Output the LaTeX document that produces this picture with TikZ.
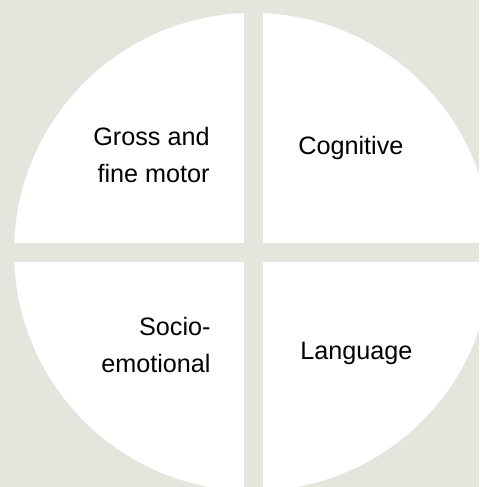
\documentclass[tikz,border=0pt]{standalone}
\usepackage{fontspec}
\setmainfont{Liberation Sans}
\usetikzlibrary{positioning}
\definecolor{Stone}{HTML}{E6E5DD}

\begin{document}
\begin{tikzpicture}[
    x=0.5pt, y=-0.5pt,
    gap/.style={fill=Stone, draw=none},
    areatxt/.style={font=\fontsize{12.6}{18.5}\selectfont, inner sep=0pt},
    lefttxt/.style={areatxt, align=right, anchor=east},
    righttxt/.style={areatxt, align=left, anchor=west}
]

\fill[Stone] (0,0) rectangle (479,487);
\useasboundingbox (0,0) rectangle (479,487);
\begin{scope}
  \clip (0,0) rectangle (479,487);
  \coordinate (c) at (253,252);
  \fill[white] (c) circle[radius=119.5pt];
  \fill[gap] (244,0) rectangle (262.5,487);
  \fill[gap] (0,243) rectangle (479,261.5);
\end{scope}

\node[lefttxt] (motor) at (210,155) {Gross and\\fine motor};
\node[righttxt] (cognitive) at (298,148) {Cognitive};
\node[lefttxt] (socio) at (211,345) {Socio-\\emotional};
\node[righttxt] (language) at (300,353) {Language};

\end{tikzpicture}
\end{document}
